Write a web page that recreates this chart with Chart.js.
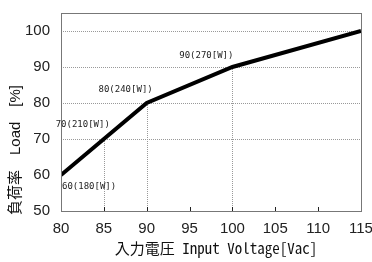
<!DOCTYPE html>
<html>
<head>
<meta charset="utf-8">
<script src="https://cdn.jsdelivr.net/npm/chart.js@4.4.0/dist/chart.umd.min.js"></script>
<style>
  html, body { margin: 0; padding: 0; background: #fff; }
</style>
</head>
<body>
<canvas id="myChart" width="372" height="262"></canvas>
<script>
// chart data
const voltage = [80, 85, 90, 100, 115];
const load = [60, 70, 80, 90, 100];
const pointLabels = ['60(180[W])', '70(210[W])', '80(240[W])', '90(270[W])'];
const xTicks = [80, 85, 90, 95, 100, 105, 110, 115];
const yTicks = [50, 60, 70, 80, 90, 100];
const gridLoads = [70, 80, 90, 100];
const dropIndex = [1, 2, 3];
const xTitle = '入力電圧 Input Voltage[Vac]';
const yTitle = '負荷率　Load　[%]';

const tickFont = "'Liberation Sans Narrow', 'Liberation Sans', Arial, sans-serif";
const monoFont = "'Noto Sans Mono CJK JP', 'DejaVu Sans Mono', 'Noto Sans CJK JP', monospace";

function noPad(s) {
    s.paddingTop = 0; s.paddingBottom = 0; s.paddingLeft = 0; s.paddingRight = 0;
}

const extras = {
    id: 'extras',
    beforeDatasetsDraw(chart) {
        const ctx = chart.ctx;
        const xs = chart.scales.x, ys = chart.scales.y;
        const area = chart.chartArea;
        ctx.save();
        // drop lines from the points
        ctx.strokeStyle = '#999';
        ctx.lineWidth = 1;
        ctx.setLineDash([1, 1]);
        dropIndex.forEach(i => {
            const px = Math.round(xs.getPixelForValue(voltage[i])) + 0.5;
            ctx.beginPath();
            ctx.moveTo(px, ys.getPixelForValue(load[i]));
            ctx.lineTo(px, area.bottom);
            ctx.stroke();
        });
        // small inward tick marks
        ctx.setLineDash([]);
        ctx.strokeStyle = '#222';
        xTicks.forEach(v => {
            const px = Math.round(xs.getPixelForValue(v)) + 0.5;
            ctx.beginPath();
            ctx.moveTo(px, area.bottom);
            ctx.lineTo(px, area.bottom - 4);
            ctx.stroke();
        });
        ctx.restore();
    },
    afterDraw(chart) {
        const ctx = chart.ctx;
        const xs = chart.scales.x, ys = chart.scales.y;
        const area = chart.chartArea;
        ctx.save();
        // frame
        ctx.strokeStyle = '#777';
        ctx.lineWidth = 1;
        ctx.strokeRect(Math.round(area.left) + 0.5, Math.round(area.top) + 0.5,
            Math.round(area.right - area.left), Math.round(area.bottom - area.top));

        // point labels
        const offs = [[1, 12, 'left'], [6, -14, 'right'], [6, -13, 'right'], [1, -11, 'right']];
        ctx.fillStyle = '#222';
        ctx.font = "9px 'DejaVu Sans Mono', monospace";
        ctx.textBaseline = 'middle';
        pointLabels.forEach((t, i) => {
            const px = xs.getPixelForValue(voltage[i]);
            const py = ys.getPixelForValue(load[i]);
            ctx.textAlign = offs[i][2];
            ctx.fillText(t, px + offs[i][0], py + offs[i][1]);
        });

        // axis titles
        ctx.fillStyle = '#111';
        ctx.font = '15px ' + monoFont;
        ctx.textAlign = 'center';
        ctx.fillText(xTitle, 216, 248);
        ctx.translate(16, 150);
        ctx.rotate(-Math.PI / 2);
        ctx.font = "15px 'Liberation Sans', 'Noto Sans CJK JP', sans-serif";
        ctx.fillText(yTitle, 0, 0);
        ctx.restore();
    }
};

const myChart = new Chart(document.getElementById('myChart'), {
    type: 'line',
    data: {
        datasets: [{
            data: voltage.map((v, i) => ({ x: v, y: load[i] })),
            borderColor: '#000',
            borderWidth: 4,
            pointRadius: 0,
            tension: 0,
            fill: false
        }]
    },
    options: {
        responsive: false,
        animation: false,
        devicePixelRatio: 1,
        layout: { padding: { top: 13, right: 11, left: 0, bottom: 0 } },
        plugins: { legend: { display: false }, tooltip: { enabled: false } },
        scales: {
            x: {
                type: 'linear',
                min: 80,
                max: 115,
                afterBuildTicks: s => { s.ticks = xTicks.map(v => ({ value: v })); },
                afterFit: s => { s.height = 51; noPad(s); },
                grid: { display: false },
                border: { display: false },
                ticks: { padding: 1, color: '#222', maxRotation: 0, font: { family: tickFont, size: 15 } }
            },
            y: {
                min: 50,
                max: 105,
                afterBuildTicks: s => { s.ticks = yTicks.map(v => ({ value: v })); },
                afterFit: s => { s.width = 61; noPad(s); },
                grid: {
                    drawTicks: false,
                    color: c => gridLoads.includes(c.tick && c.tick.value) ? '#999' : 'rgba(0,0,0,0)'
                },
                border: { display: false, dash: [1, 1] },
                ticks: { padding: 11, color: '#222', font: { family: tickFont, size: 15 } }
            }
        }
    },
    plugins: [extras]
});
</script>
</body>
</html>
